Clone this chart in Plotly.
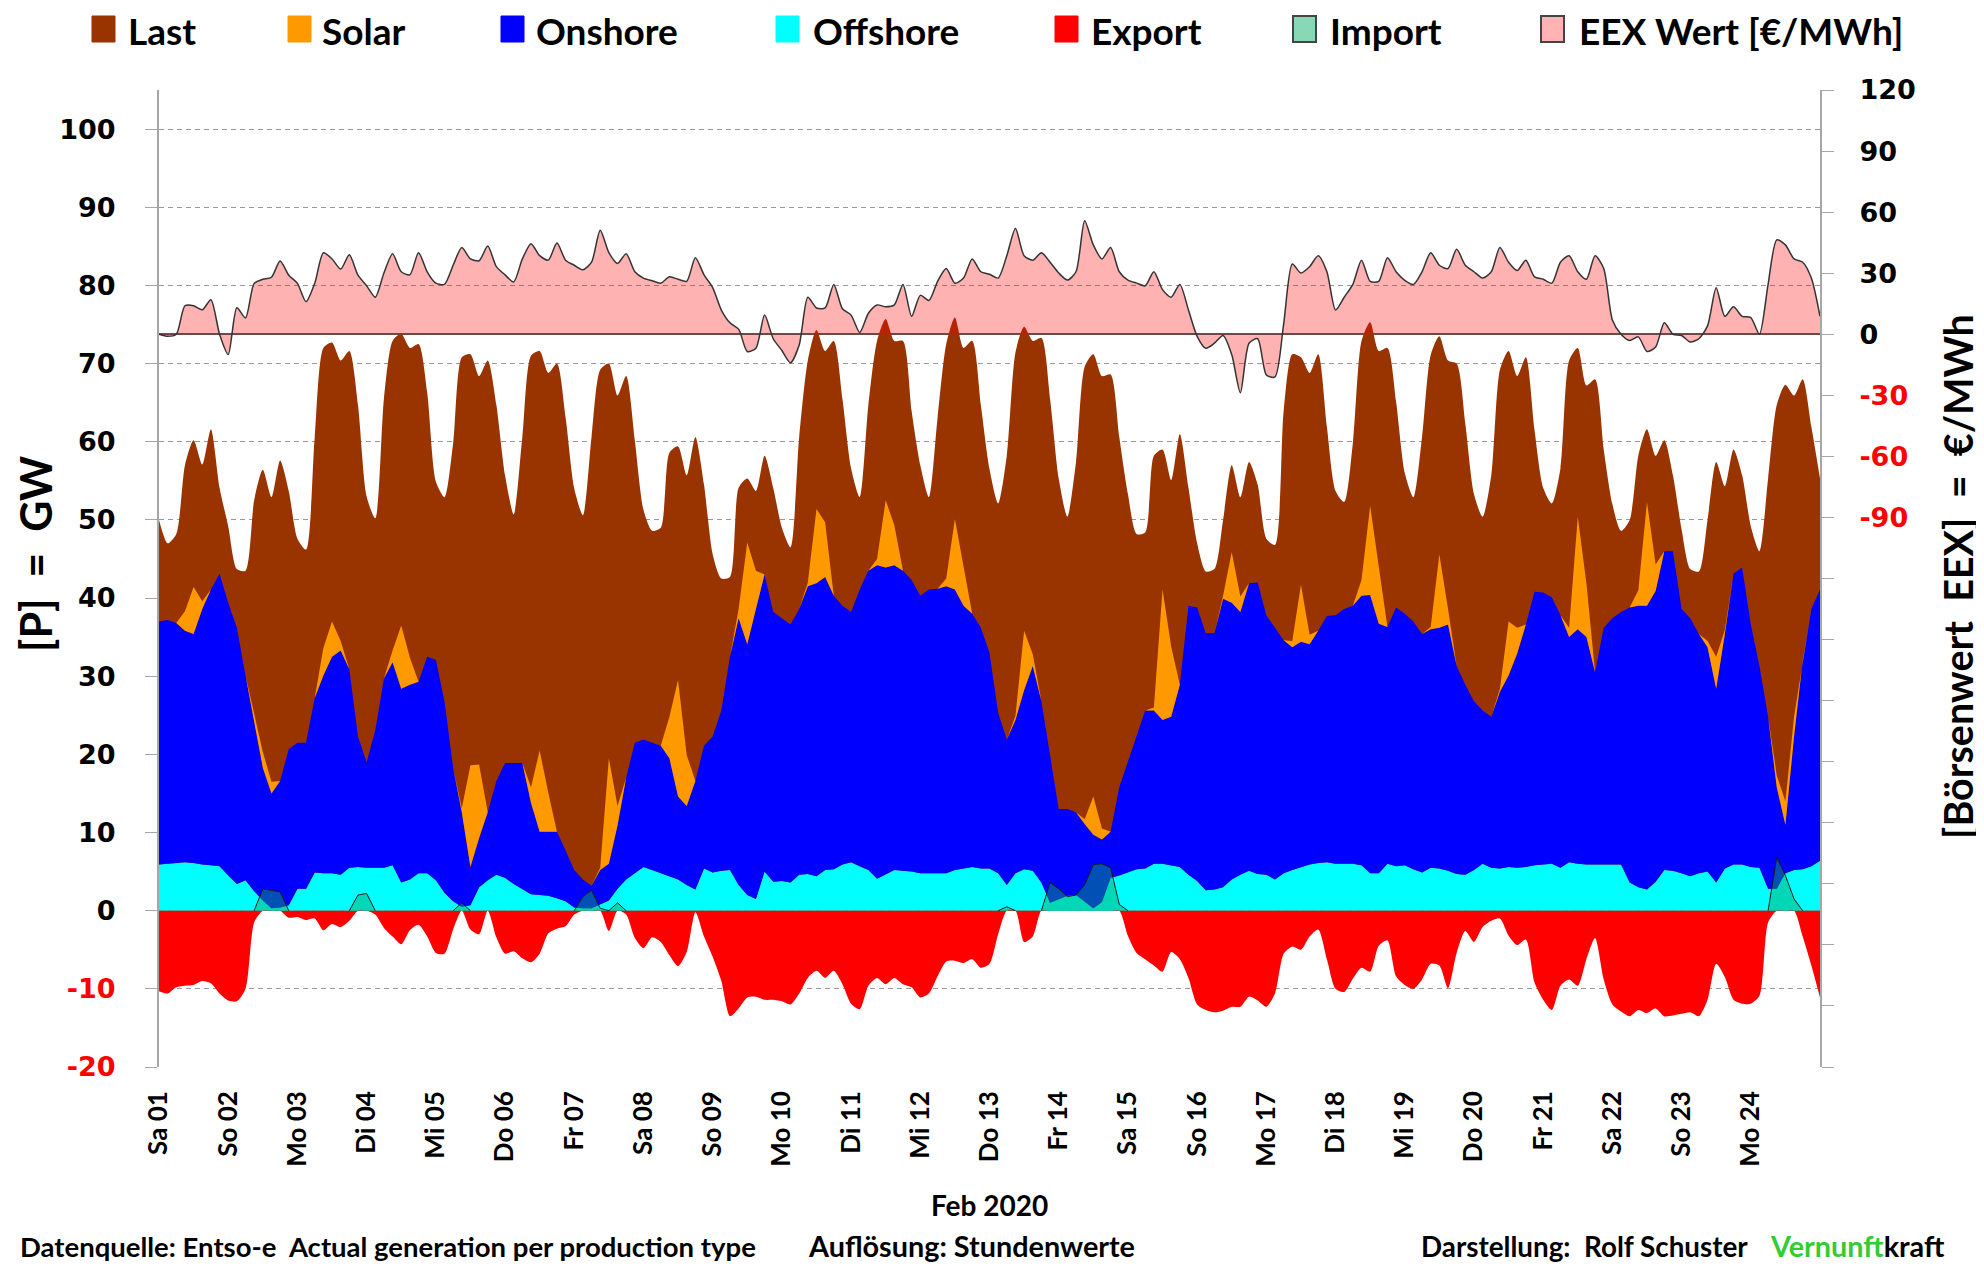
import plotly.graph_objects as go
import pandas as pd

# ---------------- data (3-hourly, Feb 1 2020 00:00 .. Feb 25 2020 00:00) ----------------
start = "2020-02-01"
n_points = 193

last = [
    50.0, 47.0, 48.2, 57.0, 60.2, 57.1, 61.6, 54.1,
    49.2, 43.7, 43.5, 52.5, 56.4, 52.9, 57.6, 53.7,
    47.6, 46.2, 60.6, 72.0, 72.7, 70.4, 71.6, 64.7,
    53.0, 50.2, 65.5, 72.9, 73.8, 72.0, 72.5, 66.3,
    54.9, 52.9, 59.8, 70.8, 71.2, 68.4, 70.4, 64.7,
    55.7, 50.7, 60.6, 71.0, 71.6, 68.8, 70.0, 63.1,
    54.0, 50.6, 60.6, 69.2, 70.0, 65.9, 68.4, 60.2,
    51.3, 48.6, 49.0, 58.6, 59.4, 55.7, 60.6, 54.5,
    45.6, 42.5, 42.7, 54.1, 55.3, 53.7, 58.2, 54.1,
    49.0, 46.5, 60.6, 70.4, 74.3, 71.6, 72.9, 65.5,
    56.6, 52.9, 64.7, 72.9, 75.7, 72.9, 72.9, 63.9,
    57.0, 52.9, 63.1, 72.5, 75.9, 72.0, 72.9, 64.7,
    56.5, 52.1, 58.2, 71.4, 74.7, 72.9, 73.3, 65.5,
    55.3, 50.4, 57.4, 69.6, 71.2, 68.4, 68.6, 60.6,
    53.3, 48.2, 48.4, 58.2, 59.0, 55.1, 61.0, 54.1,
    47.0, 43.4, 43.7, 50.0, 57.0, 52.9, 57.4, 54.5,
    47.6, 46.8, 63.9, 71.2, 70.8, 68.8, 71.2, 61.9,
    53.7, 52.3, 59.8, 72.9, 75.3, 71.6, 72.0, 65.1,
    56.0, 52.9, 60.6, 71.1, 73.5, 70.4, 70.0, 62.3,
    53.3, 50.4, 55.7, 69.2, 71.6, 68.4, 70.8, 61.5,
    54.1, 52.1, 56.6, 70.4, 72.0, 67.2, 68.0, 59.0,
    52.0, 48.6, 50.0, 58.2, 61.6, 58.2, 60.2, 55.7,
    48.8, 43.7, 43.4, 50.0, 57.4, 54.3, 59.0, 55.7,
    49.2, 46.0, 55.3, 64.7, 67.3, 65.9, 68.0, 61.9,
    55.3,
]

offshore = [
    5.9, 6.0, 6.1, 6.2, 6.1, 5.9, 5.8, 5.7,
    4.5, 3.4, 3.9, 2.5, 1.3, 0.3, 0.4, 0.7,
    2.8, 2.8, 4.9, 4.8, 4.8, 4.6, 5.5, 5.6,
    5.5, 5.5, 5.5, 5.8, 3.6, 4.0, 4.8, 4.8,
    3.9, 2.3, 1.2, 0.5, 0.7, 3.0, 3.9, 4.6,
    4.2, 3.4, 2.8, 2.1, 2.0, 1.9, 1.6, 1.2,
    0.4, 0.3, 0.3, 0.8, 1.3, 2.8, 4.0, 4.8,
    5.6, 5.2, 4.8, 4.5, 4.0, 3.3, 2.7, 5.4,
    4.9, 5.1, 5.2, 3.3, 2.0, 1.5, 5.0, 3.7,
    3.8, 3.6, 4.6, 4.7, 4.4, 5.2, 5.3, 5.9,
    6.2, 5.7, 5.2, 4.1, 4.6, 5.2, 5.1, 5.0,
    4.8, 4.8, 4.8, 4.8, 5.2, 5.4, 5.6, 5.4,
    5.4, 4.8, 3.3, 4.8, 5.3, 5.1, 3.6, 1.0,
    1.5, 1.9, 2.0, 1.1, 0.3, 1.1, 4.2, 4.5,
    4.9, 5.3, 5.4, 6.0, 6.0, 5.8, 5.6, 4.6,
    3.8, 2.6, 2.7, 3.0, 4.0, 4.6, 5.1, 4.7,
    4.6, 4.0, 4.8, 5.2, 5.6, 5.9, 6.1, 6.2,
    6.0, 6.0, 6.0, 5.8, 4.8, 4.8, 6.0, 5.7,
    5.8, 5.3, 4.9, 5.5, 5.4, 5.1, 4.7, 4.6,
    5.2, 6.0, 5.5, 5.4, 5.6, 5.5, 5.6, 5.8,
    5.9, 6.0, 5.5, 6.2, 6.0, 5.9, 5.9, 5.9,
    5.9, 5.9, 3.6, 3.0, 2.7, 3.7, 5.2, 5.1,
    4.8, 4.4, 4.8, 5.0, 3.6, 5.4, 5.9, 5.9,
    5.6, 5.5, 2.8, 2.8, 4.8, 5.2, 5.3, 5.7,
    6.4,
]

onshore = [
    31.1, 31.2, 30.7, 29.6, 29.3, 32.7, 35.3, 37.4,
    34.9, 32.8, 26.2, 21.5, 17.0, 14.7, 16.2, 20.0,
    18.7, 18.7, 22.3, 25.3, 27.7, 28.7, 25.4, 16.7,
    13.5, 17.6, 24.2, 26.0, 24.8, 24.9, 24.5, 27.7,
    28.2, 24.5, 17.1, 12.1, 4.9, 6.3, 8.7, 12.0,
    14.7, 15.5, 16.1, 11.7, 8.1, 8.2, 8.5, 6.5,
    4.8, 3.7, 2.9, 4.4, 4.7, 8.1, 13.0, 16.7,
    16.3, 16.3, 16.3, 15.0, 10.6, 10.1, 13.9, 15.7,
    17.4, 20.5, 27.3, 34.1, 32.1, 37.1, 38.0, 34.5,
    33.6, 33.0, 34.0, 36.8, 37.5, 37.5, 35.0, 33.1,
    32.0, 35.4, 38.3, 40.1, 39.3, 39.0, 38.4, 37.3,
    35.5, 36.3, 36.4, 36.7, 35.9, 33.6, 32.4, 30.8,
    27.6, 20.5, 18.6, 19.6, 22.9, 26.2, 23.2, 18.9,
    11.5, 11.1, 10.6, 10.0, 9.4, 8.0, 5.9, 11.3,
    14.2, 17.0, 20.2, 19.6, 18.4, 19.0, 23.3, 34.4,
    35.0, 32.9, 32.8, 36.9, 35.4, 33.6, 36.8, 37.3,
    33.2, 32.2, 29.8, 28.5, 28.8, 28.2, 29.7, 31.5,
    31.8, 32.6, 33.0, 34.5, 35.6, 31.9, 30.3, 33.1,
    32.2, 31.7, 30.5, 30.5, 30.8, 31.5, 26.6, 24.3,
    21.6, 19.6, 19.3, 22.6, 24.5, 27.4, 31.0, 35.0,
    34.8, 34.1, 32.3, 28.8, 30.0, 29.1, 24.6, 30.3,
    31.5, 32.3, 35.2, 36.0, 36.3, 37.2, 40.8, 40.9,
    33.8, 33.0, 30.6, 28.7, 24.8, 30.0, 37.2, 38.0,
    31.0, 25.8, 22.0, 13.0, 6.2, 17.1, 26.7, 32.9,
    34.7,
]

solar = [
    0, 0, 0, 2.5, 6.0, 1.0, 0, 0,
    0, 0, 0, 1.0, 2.0, 1.5, 0, 0,
    0, 0, 0, 3.5, 4.5, 1.2, 0, 0,
    0, 0, 0, 1.5, 8.1, 3.5, 0, 0,
    0, 0, 0, 0.5, 13.0, 9.4, 0, 0,
    0, 0, 0, 2.0, 10.4, 5.0, 0, 0,
    0, 0, 0, 0.3, 13.5, 2.5, 0, 0,
    0, 0, 0, 5.3, 14.9, 6.5, 0, 0,
    0, 0, 0, 1.2, 13.0, 4.9, 0, 0,
    0, 0, 0, 0.5, 9.5, 7.0, 0, 0,
    0, 0, 0, 0.8, 8.6, 5.1, 0, 0,
    0, 0, 0, 1.0, 9.0, 5.3, 0, 0,
    0, 0, 0, 0.5, 7.6, 1.5, 0, 0,
    0, 0, 0, 0.6, 4.9, 1.4, 0, 0,
    0, 0, 0, 0.4, 16.7, 9.0, 0, 0,
    0, 0, 0, 0.4, 6.5, 2.0, 0, 0,
    0, 0, 0, 0.8, 7.3, 1.2, 0, 0,
    0, 0, 0, 2.0, 11.4, 7.3, 0, 0,
    0, 0, 0, 0.3, 9.4, 2.0, 0, 0,
    0, 0, 0, 0.4, 6.9, 3.3, 0, 0,
    0, 0, 0, 1.2, 14.4, 6.9, 0, 0,
    0, 0, 0, 2.0, 13.3, 3.4, 0, 0,
    0, 0, 0, 0.8, 4.1, 0.5, 0, 0,
    0, 0, 0, 1.5, 3.0, 2.5, 0, 0,
    0,
]

export = [
    -10.3, -10.6, -9.8, -9.6, -9.5, -9.0, -9.3, -10.6,
    -11.5, -11.6, -10.0, -1.5, 0, 0, 0, -0.9,
    -0.8, -1.2, -1.0, -2.5, -1.7, -2.1, -1.3, 0,
    0, -0.5, -2.2, -3.3, -4.3, -2.5, -1.8, -3.3,
    -5.4, -5.5, -2.4, 0, -2.4, -3.0, 0, -3.4,
    -5.5, -5.2, -6.1, -6.6, -5.5, -2.9, -2.3, -2.0,
    -0.5, 0, 0, 0, -2.6, 0, -0.5, -3.5,
    -4.8, -3.4, -4.0, -5.7, -7.1, -5.3, -0.2, -3.3,
    -5.9, -9.0, -13.5, -12.5, -11.1, -11.0, -11.4, -11.4,
    -11.6, -12.0, -10.6, -8.6, -7.7, -8.6, -7.7, -9.4,
    -11.9, -12.6, -9.6, -8.6, -9.4, -8.6, -9.4, -9.8,
    -11.1, -10.6, -8.4, -6.5, -6.4, -6.7, -6.2, -7.3,
    -6.8, -3.0, 0, 0, -4.0, -3.3, 0, 0,
    0, 0, 0, 0, 0, 0, 0, 0,
    -3.2, -5.4, -6.2, -7.0, -7.8, -5.3, -6.2, -8.6,
    -12.0, -12.7, -13.0, -12.8, -12.3, -12.3, -11.0, -11.5,
    -12.3, -10.6, -5.5, -4.6, -5.0, -3.3, -2.4, -6.2,
    -10.0, -10.4, -8.7, -7.3, -7.8, -4.5, -3.8, -8.4,
    -9.5, -10.0, -8.8, -6.8, -7.0, -9.9, -5.4, -2.6,
    -4.0, -2.1, -1.3, -1.0, -3.2, -4.4, -3.7, -9.2,
    -11.4, -12.7, -9.6, -8.8, -9.6, -6.2, -3.5, -8.8,
    -12.0, -12.9, -13.5, -12.7, -13.1, -12.5, -13.5, -13.4,
    -13.2, -13.0, -13.5, -11.4, -6.8, -8.5, -11.4, -11.9,
    -11.9, -10.9, -1.5, 0, 0, 0, -3.3, -7.0,
    -11.1,
]

imports = [
    0, 0, 0, 0, 0, 0, 0, 0,
    0, 0, 0, 0, 2.8, 2.6, 2.4, 0,
    0, 0, 0, 0, 0, 0, 0, 2.0,
    2.2, 0, 0, 0, 0, 0, 0, 0,
    0, 0, 0, 1.0, 0, 0, 0, 0,
    0, 0, 0, 0, 0, 0, 0, 0,
    0, 1.8, 2.6, 0.3, 0, 1.0, 0, 0,
    0, 0, 0, 0, 0, 0, 0, 0,
    0, 0, 0, 0, 0, 0, 0, 0,
    0, 0, 0, 0, 0, 0, 0, 0,
    0, 0, 0, 0, 0, 0, 0, 0,
    0, 0, 0, 0, 0, 0, 0, 0,
    0, 0, 0.5, 0, 0, 0, 0, 3.6,
    2.8, 1.8, 2.0, 3.3, 5.9, 6.0, 5.5, 0.8,
    0, 0, 0, 0, 0, 0, 0, 0,
    0, 0, 0, 0, 0, 0, 0, 0,
    0, 0, 0, 0, 0, 0, 0, 0,
    0, 0, 0, 0, 0, 0, 0, 0,
    0, 0, 0, 0, 0, 0, 0, 0,
    0, 0, 0, 0, 0, 0, 0, 0,
    0, 0, 0, 0, 0, 0, 0, 0,
    0, 0, 0, 0, 0, 0, 0, 0,
    0, 0, 0, 0, 0, 0, 0, 0,
    0, 0, 0, 6.8, 4.5, 1.5, 0, 0,
    0,
]

eex = [
    0, -1, 0, 14, 14, 12, 17, 0,
    -10, 13, 8, 25, 27, 28, 36, 29,
    25, 16, 25, 40, 37, 32, 39, 29,
    23.8, 18.2, 30.1, 39.5, 30.7, 29.2, 40.1, 30.7,
    25.1, 24.5, 33.9, 42.6, 37.0, 36.1, 43.3, 33.2,
    29.2, 25.7, 37.0, 44.5, 38.6, 36.4, 44.8, 36.4,
    33.9, 31.7, 35.4, 51.1, 40.1, 34.8, 39.5, 30.7,
    27.6, 26.3, 25.1, 28.2, 27.0, 26.0, 37.6, 29.2,
    22.9, 11.9, 5.6, 2.5, -8.5, -6.9, 9.4, -2.2,
    -8.0, -14.0, -5.3, 18.2, 12.9, 12.9, 24.5, 12.5,
    9.4, 0.9, 10.3, 14.4, 13.5, 14.4, 24.5, 8.8,
    19.1, 16.6, 26.0, 32.3, 25.1, 27.6, 37.0, 30.7,
    29.5, 27.6, 38.6, 52.0, 38.6, 36.4, 40.1, 35.4,
    30.1, 26.6, 30.7, 55.8, 43.9, 37.0, 42.6, 30.7,
    26.6, 25.1, 23.8, 30.7, 21.9, 18.2, 24.5, 11.9,
    -1.0, -6.9, -4.4, -0.6, -10.0, -28.8, -4.4, -2.2,
    -20.0, -21.0, 5.0, 34.5, 30.1, 33.2, 38.6, 30.7,
    11.9, 18.2, 24.5, 36.4, 26.0, 26.0, 37.6, 30.7,
    26.5, 24.5, 30.7, 40.1, 33.9, 32.3, 41.7, 33.9,
    30.7, 27.6, 30.7, 42.6, 35.4, 31.3, 36.4, 28.2,
    27.0, 25.1, 35.4, 38.6, 30.7, 27.0, 38.6, 32.3,
    7.0, 0.0, -3.1, -1.3, -8.5, -6.3, 5.6, 0.0,
    -0.6, -3.8, -2.2, 4.1, 22.9, 8.8, 13.5, 8.8,
    8.2, 0.0, 24.5, 46.4, 43.9, 37.0, 35.4, 27.6,
    8.8,
]

day_labels = ["Sa 01", "So 02", "Mo 03", "Di 04", "Mi 05", "Do 06", "Fr 07",
              "Sa 08", "So 09", "Mo 10", "Di 11", "Mi 12", "Do 13", "Fr 14",
              "Sa 15", "So 16", "Mo 17", "Di 18", "Mi 19", "Do 20", "Fr 21",
              "Sa 22", "So 23", "Mo 24"]

legend_names = ["Last", "Solar", "Onshore", "Offshore", "Export", "Import", "EEX Wert [€/MWh]"]

# ---------------- figure ----------------
t = pd.date_range(start, periods=n_points, freq="3h")
day_ticks = pd.date_range(start, periods=len(day_labels), freq="D")

C_LAST = "#993300"
C_SOLAR = "#ff9900"
C_ON = "#0000ff"
C_OFF = "#00ffff"
C_EXP = "#ff0000"
C_IMP = "rgba(0,170,100,0.47)"
C_EEX = "rgba(255,0,0,0.30)"

# import drawn only where it (or a neighbour) is non-zero
imp_plot = []
for i, v in enumerate(imports):
    nb = imports[max(i - 1, 0):i + 2]
    imp_plot.append(v if any(abs(x) > 0 for x in nb) else None)

SM = 0.7
fig = go.Figure()
fig.add_trace(go.Scatter(x=t, y=last, mode="lines", fill="tozeroy", fillcolor=C_LAST,
                         line=dict(width=0, color=C_LAST, shape="spline", smoothing=SM), name="Last"))
fig.add_trace(go.Scatter(x=t, y=offshore, mode="lines", stackgroup="gen", fillcolor=C_OFF,
                         line=dict(width=0, color=C_OFF), name="Offshore"))
fig.add_trace(go.Scatter(x=t, y=onshore, mode="lines", stackgroup="gen", fillcolor=C_ON,
                         line=dict(width=0, color=C_ON), name="Onshore"))
fig.add_trace(go.Scatter(x=t, y=solar, mode="lines", stackgroup="gen", fillcolor=C_SOLAR,
                         line=dict(width=0, color=C_SOLAR), name="Solar"))
fig.add_trace(go.Scatter(x=t, y=export, mode="lines", fill="tozeroy", fillcolor=C_EXP,
                         line=dict(width=0, color=C_EXP, shape="spline", smoothing=SM), name="Export"))
fig.add_trace(go.Scatter(x=t, y=imp_plot, mode="lines", fill="tozeroy", fillcolor=C_IMP,
                         line=dict(width=1, color="#1a1a1a"), connectgaps=False, name="Import"))
fig.add_trace(go.Scatter(x=t, y=eex, mode="lines", fill="tozeroy", fillcolor=C_EEX,
                         line=dict(width=1.5, color="#333333", shape="spline", smoothing=SM),
                         yaxis="y2", name="EEX"))

# the page body adds an 8px offset, so the figure is 8px smaller than the window
OFF = 8
W, H = 1984 - OFF, 1267 - OFF
ML, MR, MT, MB = 159 - OFF, 164, 90 - OFF, 200
PW, PH = W - ML - MR, H - MT - MB


def px(xp):  # page pixel -> paper x
    return (xp - OFF - ML) / PW


def py(yp):  # page pixel -> paper y
    return (H - MB - (yp - OFF)) / PH


left_vals = list(range(-20, 101, 10))
left_text = [f'<span style="color:#ff0000">{v}</span>' if v < 0 else str(v) for v in left_vals]
right_vals = list(range(-360, 121, 30))
right_text = []
for v in right_vals:
    if v < -90:
        right_text.append("")
    elif v < 0:
        right_text.append(f'<span style="color:#ff0000">{v}</span>')
    else:
        right_text.append(str(v))

tickfont = dict(family="DejaVu Sans", size=27, color="#000000", weight="bold")
lato = "Lato"

fig.update_layout(
    width=W, height=H,
    margin=dict(l=ML, r=MR, t=MT, b=MB),
    paper_bgcolor="white", plot_bgcolor="white",
    showlegend=False,
    xaxis=dict(type="date", range=[t[0], t[-1]], tickvals=day_ticks, ticktext=day_labels,
               tickangle=-90, showgrid=False, zeroline=False, showline=False, ticks="",
               tickfont=dict(family=lato, size=26, color="#000", weight="bold"),
               ticklabelstandoff=18),
    yaxis=dict(range=[-20, 105], tickvals=left_vals, ticktext=left_text, showgrid=True,
               gridcolor="#9a9a9a", griddash="5px,4px", gridwidth=1, zeroline=False,
               showline=True, linecolor="#a6a6a6", linewidth=2, ticks="outside",
               ticklen=12, tickcolor="#a6a6a6", tickwidth=1, tickfont=tickfont,
               ticklabelstandoff=24),
    yaxis2=dict(range=[-360, 120], overlaying="y", side="right", tickvals=right_vals,
                ticktext=right_text, showgrid=False, zeroline=True, zerolinecolor="#555555",
                zerolinewidth=1.5, showline=True, linecolor="#a6a6a6", linewidth=2,
                ticks="outside", ticklen=12, tickcolor="#a6a6a6", tickwidth=1,
                tickfont=tickfont, ticklabelstandoff=20),
)

# ---------------- manual legend ----------------
legend_colors = [C_LAST, C_SOLAR, C_ON, C_OFF, C_EXP, "#88d8b6", "#ffb3b3"]
legend_border = [C_LAST, C_SOLAR, C_ON, C_OFF, C_EXP, "#444444", "#444444"]
swatch_x = [92, 288, 501, 776, 1055, 1293, 1541]
text_x = [126, 320, 534, 811, 1089, 1328, 1577]
shapes = []
annotations = []
for nm, c, bc, sx, tx in zip(legend_names, legend_colors, legend_border, swatch_x, text_x):
    shapes.append(dict(type="rect", xref="paper", yref="paper", x0=px(sx), x1=px(sx + 23),
                       y0=py(42), y1=py(16), fillcolor=c,
                       line=dict(color=bc, width=2 if bc == "#444444" else 1), layer="above"))
    annotations.append(dict(xref="paper", yref="paper", x=px(tx), y=py(30), text=nm,
                            showarrow=False, xanchor="left", yanchor="middle",
                            font=dict(family=lato, size=37, color="#000", weight="bold")))


def foot(size):
    return dict(family=lato, size=size, color="#000", weight="bold")


FY = 1246
annotations += [
    dict(xref="paper", yref="paper", x=px(35), y=py(554), text="[P]\u00a0 =\u00a0 GW",
         textangle=-90, showarrow=False, xanchor="center", yanchor="middle",
         font=dict(family=lato, size=43, color="#000", weight="bold")),
    dict(xref="paper", yref="paper", x=px(1957), y=py(577),
         text="[Börsenwert\u00a0 EEX]\u00a0 =\u00a0 €/MWh",
         textangle=-90, showarrow=False, xanchor="center", yanchor="middle",
         font=dict(family=lato, size=39.5, color="#000", weight="bold")),
    dict(xref="paper", yref="paper", x=px(989), y=py(1205), text="Feb 2020",
         showarrow=False, xanchor="center", yanchor="middle", font=foot(28), borderpad=0),
    dict(xref="paper", yref="paper", x=px(19), y=py(FY),
         text="Datenquelle: Entso-e\u00a0 Actual generation per production type",
         showarrow=False, xanchor="left", yanchor="middle", font=foot(27.5), borderpad=0),
    dict(xref="paper", yref="paper", x=px(807), y=py(FY), text="Auflösung: Stundenwerte",
         showarrow=False, xanchor="left", yanchor="middle", font=foot(28.8), borderpad=0),
    dict(xref="paper", yref="paper", x=px(1420), y=py(FY), text="Darstellung:\u00a0 Rolf Schuster",
         showarrow=False, xanchor="left", yanchor="middle", font=foot(27.8), borderpad=0),
    dict(xref="paper", yref="paper", x=px(1769), y=py(FY),
         text='<span style="color:#33cc33">Vernunft</span>kraft',
         showarrow=False, xanchor="left", yanchor="middle", font=foot(28.8), borderpad=0),
]

fig.update_layout(shapes=shapes, annotations=annotations)
fig.write_html("out.html")
